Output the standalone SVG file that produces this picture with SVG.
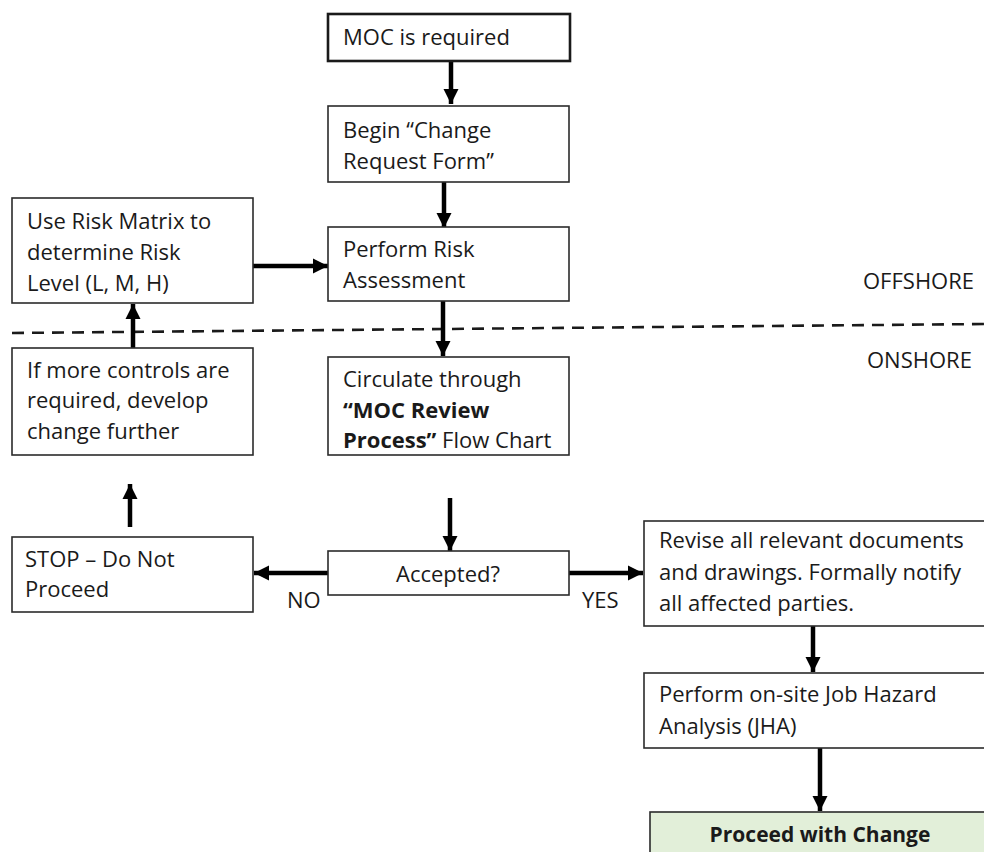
<svg xmlns="http://www.w3.org/2000/svg" width="984" height="852" viewBox="0 0 984 852">
  <style>
    .box { fill: #ffffff; stroke: #2b2b2b; stroke-width: 1.6; }
    .box-strong { fill: #ffffff; stroke: #1a1a1a; stroke-width: 2.6; }
    .box-end { fill: #e2efd9; stroke: #2b2b2b; stroke-width: 1.6; }
    .t { font-family: "Open Sans", "Liberation Sans", sans-serif; font-size: 22px; fill: #1a1a1a; }
    .b { font-weight: bold; }
    .end-label { font-size: 21px; }
    .flow { stroke: #000000; stroke-width: 4.5; fill: none; marker-end: url(#head); }
    .divider { stroke: #1a1a1a; stroke-width: 2.6; stroke-dasharray: 12 8; fill: none; }
  </style>
  <defs>
    <marker id="head" markerUnits="userSpaceOnUse" markerWidth="16" markerHeight="16" viewBox="0 0 16 16" refX="15" refY="8" orient="auto">
      <polygon points="0,0.5 15,8 0,15.5" fill="#000000"/>
    </marker>
  </defs>

  <rect width="984" height="852" fill="#ffffff"/>

  <!-- offshore / onshore boundary -->
  <path class="divider" d="M12,333 L984,324"/>
  <text class="t" x="863" y="289">OFFSHORE</text>
  <text class="t" x="867" y="368">ONSHORE</text>

  <g id="connectors">
    <path class="flow" d="M451,61 L451,104"/>
    <path class="flow" d="M444,182 L444,228"/>
    <path class="flow" d="M253,266 L328,266"/>
    <path class="flow" d="M443,301 L443,356"/>
    <path class="flow" d="M133,348 L133,304"/>
    <path class="flow" d="M130,527 L130,484"/>
    <path class="flow" d="M450,498 L450,551"/>
    <path class="flow" d="M328,573 L254,573"/>
    <path class="flow" d="M569,573 L643,573"/>
    <path class="flow" d="M813,626 L813,672"/>
    <path class="flow" d="M820,748 L820,811"/>
    <text class="t" x="287" y="608">NO</text>
    <text class="t" x="582" y="608">YES</text>
  </g>

  <g id="moc-required">
    <rect class="box-strong" x="328" y="14" width="242" height="47"/>
    <text class="t" x="343" y="45">MOC is required</text>
  </g>

  <g id="change-request">
    <rect class="box" x="328" y="106" width="241" height="76"/>
    <text class="t" x="343" y="138">Begin “Change</text>
    <text class="t" x="343" y="169">Request Form”</text>
  </g>

  <g id="risk-assessment">
    <rect class="box" x="328" y="227" width="241" height="74"/>
    <text class="t" x="343" y="257">Perform Risk</text>
    <text class="t" x="343" y="288">Assessment</text>
  </g>

  <g id="risk-matrix">
    <rect class="box" x="12" y="198" width="241" height="105"/>
    <text class="t" x="27" y="229">Use Risk Matrix to</text>
    <text class="t" x="27" y="260">determine Risk</text>
    <text class="t" x="27" y="291">Level (L, M, H)</text>
  </g>

  <g id="review-process">
    <rect class="box" x="328" y="357" width="241" height="98"/>
    <text class="t" x="343" y="387">Circulate through</text>
    <text class="t" x="343" y="418"><tspan class="b">“MOC Review</tspan></text>
    <text class="t" x="343" y="448"><tspan class="b">Process”</tspan> Flow Chart</text>
  </g>

  <g id="more-controls">
    <rect class="box" x="12" y="348" width="241" height="107"/>
    <text class="t" x="27" y="378">If more controls are</text>
    <text class="t" x="27" y="408">required, develop</text>
    <text class="t" x="27" y="439">change further</text>
  </g>

  <g id="stop">
    <rect class="box" x="12" y="537" width="241" height="75"/>
    <text class="t" x="25" y="567">STOP – Do Not</text>
    <text class="t" x="25" y="597">Proceed</text>
  </g>

  <g id="accepted">
    <rect class="box" x="328" y="551" width="241" height="44"/>
    <text class="t" x="448" y="582" text-anchor="middle">Accepted?</text>
  </g>

  <g id="revise-documents">
    <rect class="box" x="644" y="521" width="345" height="105"/>
    <text class="t" x="659" y="548">Revise all relevant documents</text>
    <text class="t" x="659" y="580">and drawings. Formally notify</text>
    <text class="t" x="659" y="611">all affected parties.</text>
  </g>

  <g id="job-hazard">
    <rect class="box" x="644" y="673" width="345" height="75"/>
    <text class="t" x="659" y="702">Perform on-site Job Hazard</text>
    <text class="t" x="659" y="734">Analysis (JHA)</text>
  </g>

  <g id="proceed">
    <rect class="box-end" x="650" y="812" width="345" height="50"/>
    <text class="t b end-label" x="820" y="842" text-anchor="middle">Proceed with Change</text>
  </g>
</svg>
